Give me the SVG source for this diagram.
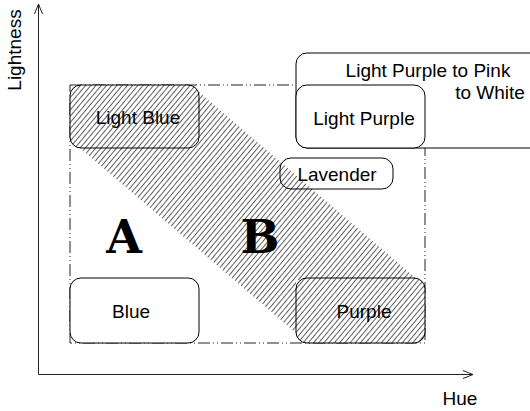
<svg xmlns="http://www.w3.org/2000/svg" width="530" height="411" viewBox="0 0 530 411">
  <style>
    .box { fill: #fff; stroke: #000; stroke-width: 1; }
    .hbox { fill: url(#hatch); stroke: #000; stroke-width: 1; }
    .lbl { font-family: "Liberation Sans", Arial, sans-serif; font-size: 19px; fill: #000; }
    .mid { text-anchor: middle; }
    .big { font-family: "DejaVu Serif", "Liberation Serif", serif; font-weight: bold; font-size: 46px; text-anchor: middle; fill: #000; }
    .axis { fill: none; stroke: #222; stroke-width: 1; }
  </style>
  <defs>
    <pattern id="hatch" width="4" height="4" patternUnits="userSpaceOnUse" patternTransform="rotate(40)">
      <rect width="4" height="4" fill="#fff"/>
      <line x1="0.5" y1="0" x2="0.5" y2="4" stroke="#2a2a2a" stroke-width="0.75"/>
    </pattern>
    <marker id="arrow" viewBox="0 0 10 10" refX="10" refY="5" markerWidth="10" markerHeight="10" markerUnits="userSpaceOnUse" orient="auto">
      <path d="M0,1 L10,5 L0,9" fill="none" stroke="#222" stroke-width="1"/>
    </marker>
  </defs>

  <rect width="530" height="411" fill="#fff"/>

  <!-- diagonal hatched band -->
  <g id="band">
    <polygon points="80,148 199,92 418,280 296,280 296,333" fill="url(#hatch)"/>
  </g>

  <!-- dash-dot frame -->
  <rect x="70" y="85" width="355" height="258" fill="none" stroke="#222" stroke-width="1" stroke-dasharray="12 3 1 3 1 3"/>

  <!-- axes -->
  <g id="connectors">
    <line class="axis" x1="38.5" y1="374.5" x2="38.5" y2="4" marker-end="url(#arrow)"/>
    <line class="axis" x1="38.5" y1="374.5" x2="473" y2="374.5" marker-end="url(#arrow)"/>
  </g>

  <text class="lbl mid" transform="translate(21,50) rotate(-90)">Lightness</text>
  <text class="lbl mid" x="460" y="405">Hue</text>

  <g id="pinkwhite">
    <rect class="box" x="296" y="53" width="250" height="95" rx="11"/>
    <text class="lbl mid" x="428" y="77">Light Purple to Pink</text>
    <text class="lbl mid" x="490" y="99">to White</text>
  </g>

  <g id="lightblue">
    <rect class="hbox" x="70" y="85" width="129" height="63" rx="11"/>
    <text class="lbl mid" x="138" y="124">Light Blue</text>
  </g>

  <g id="lightpurple">
    <rect class="box" x="296" y="85" width="129" height="63" rx="11"/>
    <text class="lbl mid" x="364" y="125">Light Purple</text>
  </g>

  <g id="lavender">
    <rect x="280" y="158" width="113" height="31" rx="11" fill="none" stroke="#000"/>
    <text class="lbl mid" x="337" y="181">Lavender</text>
  </g>

  <g id="blue">
    <rect class="box" x="70" y="278" width="129" height="65" rx="11"/>
    <text class="lbl mid" x="131" y="318">Blue</text>
  </g>

  <g id="purple">
    <rect class="hbox" x="296" y="278" width="129" height="65" rx="11"/>
    <text class="lbl mid" x="364" y="318">Purple</text>
  </g>

  <g id="regionA">
    <text class="big" x="124" y="253">A</text>
  </g>
  <g id="regionB">
    <text class="big" x="260" y="253">B</text>
  </g>
</svg>
